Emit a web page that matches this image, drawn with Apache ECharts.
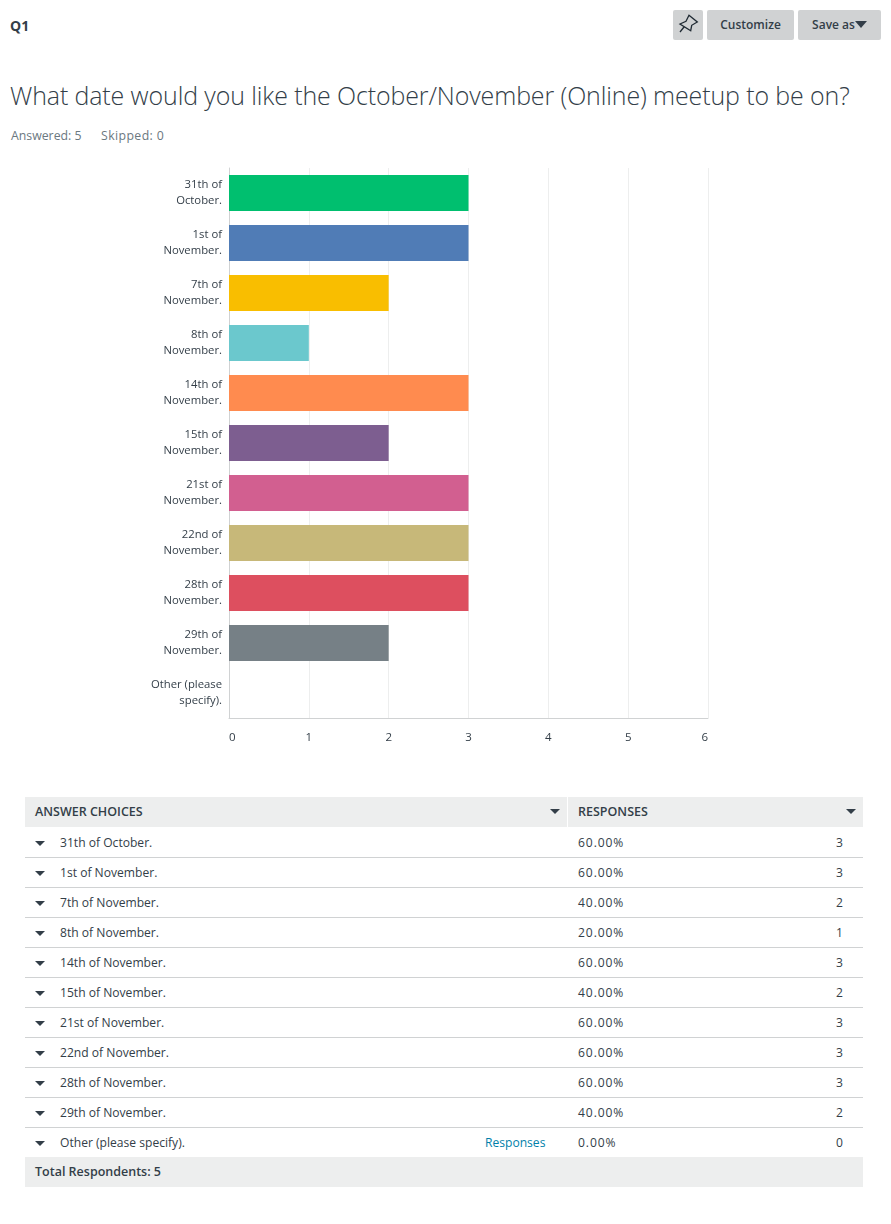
<!DOCTYPE html>
<html>
<head>
<meta charset="utf-8">
<title>Q1</title>
<script src="https://cdn.jsdelivr.net/npm/echarts@6/dist/echarts.min.js"></script>
<style>
	html, body { margin: 0; padding: 0; background: #fff; }
	body { position: relative; width: 891px; height: 1224px; overflow: hidden; font-family: "Open Sans", sans-serif; color: #333e48; }
	.abs { position: absolute; white-space: nowrap; }
	.q { left: 10px; top: 16px; font-size: 14px; line-height: 20px; font-weight: 700; }
	.title { left: 10px; top: 78px; font-size: 24.95px; line-height: 34px; font-weight: 300; letter-spacing: -0.1px; }
	.meta { top: 127px; font-size: 12.3px; line-height: 18px; color: #6b787f; }
	.btn { top: 10px; height: 30px; line-height: 29px; background: #d0d2d3; border-radius: 2px; font-size: 12px; font-weight: 600; text-align: center; }
	.tri { display: inline-block; width: 0; height: 0; border-left: 5px solid transparent; border-right: 5px solid transparent; border-top: 5px solid #333e48; }
	#main { position: absolute; left: 0; top: 150px; width: 891px; height: 620px; }
	.grid-table { position: absolute; left: 25px; top: 797px; width: 838px; }
	.row { position: relative; height: 30px; font-size: 12.1px; line-height: 32px; box-sizing: border-box; }
	.row.line { box-shadow: 0 1px 0 #d0d2d3; }
	.row.head, .row.foot { background: #edeeee; font-weight: 600; font-size: 12.5px; line-height: 30px; }
	.row span { position: absolute; top: 0; white-space: nowrap; }
	.row .tri { top: 14px; }
	.row.head .tri { top: 12px; }
	.row.head .split { left: 542px; top: 0; width: 1px; height: 30px; background: #fff; }
	.pct { letter-spacing: 0.9px; }
	a.resp { color: #007faa; text-decoration: none; }
</style>
</head>
<body>
	<div class="abs q">Q1</div>
	<div class="abs btn" style="left:673px;width:30px;">
		<svg width="30" height="30" viewBox="0 0 30 30" style="display:block">
			<path d="M16 5.3 L24.3 12 L18.7 15.3 L17.7 20.7 L7 14 L13 11.3 Z M11 17 L7 22" fill="none" stroke="#1f2a33" stroke-width="1.3"/>
		</svg>
	</div>
	<div class="abs btn" style="left:707px;width:87px;">Customize</div>
	<div class="abs btn" style="left:798px;width:83px;">Save as<i class="tri" style="border-left-width:6px;border-right-width:6px;border-top-width:7px;vertical-align:1px;"></i></div>
	<div class="abs title">What date would you like the October/November (Online) meetup to be on?</div>
	<div class="abs meta" style="left:11px;">Answered: 5</div>
	<div class="abs meta" style="left:101px;letter-spacing:0.4px;">Skipped: 0</div>

	<div id="main"></div>
	<div class="grid-table" id="table"></div>

<script>
	var categories = ['31th of October.', '1st of November.', '7th of November.', '8th of November.', '14th of November.',
		'15th of November.', '21st of November.', '22nd of November.', '28th of November.', '29th of November.', 'Other (please specify).'];
	var responses = [3, 3, 2, 1, 3, 2, 3, 3, 3, 2, 0];
	var percents = ['60.00%', '60.00%', '40.00%', '20.00%', '60.00%', '40.00%', '60.00%', '60.00%', '60.00%', '40.00%', '0.00%'];
	var barColors = ['#00bf6f', '#507cb6', '#f9be00', '#6bc8cd', '#ff8b4f', '#7d5e90', '#d25f90', '#c7b879', '#dd4f5f', '#768086', '#00bf6f'];
	var xTicks = [0, 1, 2, 3, 4, 5, 6];

	function initEcharts() {
		var myChart = echarts.init(document.getElementById('main'));
		var fontName = '"Open Sans", sans-serif';
		var option = {
			animation: false,
			grid: { left: 229, top: 18, width: 479, height: 550 },
			xAxis: {
				type: 'value',
				min: xTicks[0],
				max: xTicks[xTicks.length - 1],
				interval: 1,
				axisLine: { show: true, lineStyle: { color: '#d0d2d3', width: 1 } },
				axisTick: { show: false },
				splitLine: { show: true, lineStyle: { color: '#edeeee', width: 1 } },
				axisLabel: {
					color: '#333e48', fontSize: 11.5, fontFamily: fontName, margin: 14,
					alignMinLabel: 'left', alignMaxLabel: 'right'
				}
			},
			yAxis: {
				type: 'category',
				inverse: true,
				data: categories,
				axisLine: { show: true, lineStyle: { color: '#d0d2d3', width: 1 } },
				axisTick: { show: false },
				axisLabel: {
					color: '#333e48', fontSize: 11.3, lineHeight: 16, fontFamily: fontName, margin: 7,
					align: 'right', interval: 0, padding: [4, 0, 0, 0],
					//最后一个空格处换行
					formatter: function(name) {
						var at = name.lastIndexOf(' ');
						return name.slice(0, at) + '\n' + name.slice(at + 1);
					}
				}
			},
			series: [{
				type: 'bar',
				barWidth: 36,
				data: responses.map(function(v, i) {
					return { value: v, itemStyle: { color: barColors[i] } };
				})
			}]
		};
		myChart.setOption(option);
	}

	function cell(left, text, cls) {
		return '<span' + (cls ? ' class="' + cls + '"' : '') + ' style="left:' + left + 'px;">' + text + '</span>';
	}

	function initTable() {
		var html = '<div class="row head">' + cell(10, 'ANSWER CHOICES') +
			'<span class="tri" style="left:525px;"></span><span class="split"></span>' +
			cell(553, 'RESPONSES') + '<span class="tri" style="left:821px;"></span></div>';
		for (var i = 0; i < categories.length; i++) {
			var last = i === categories.length - 1;
			html += '<div class="row' + (last ? '' : ' line') + '">' +
				'<span class="tri" style="left:10px;"></span>' + cell(35, categories[i]) +
				(last ? '<span style="left:460px;"><a class="resp">Responses</a></span>' : '') +
				cell(553, percents[i], 'pct') +
				'<span style="right:20px;">' + responses[i] + '</span></div>';
		}
		html += '<div class="row foot">' + cell(10, 'Total Respondents: 5') + '</div>';
		document.getElementById('table').innerHTML = html;
	}

	initEcharts();
	initTable();
</script>
</body>
</html>
